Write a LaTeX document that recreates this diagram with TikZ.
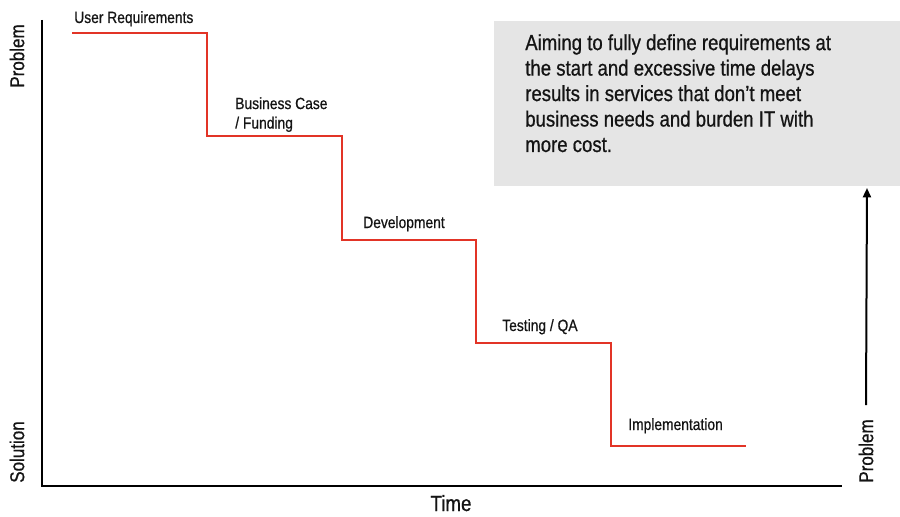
\documentclass[tikz,border=0pt]{standalone}
\usepackage{fontspec}
\setmainfont{Liberation Sans}[FakeStretch=0.85, FakeBold=0.7]
\usetikzlibrary{arrows.meta}
\definecolor{stairred}{RGB}{226,52,38}
\definecolor{notegray}{RGB}{229,229,229}
\definecolor{inkblack}{RGB}{20,20,20}

\begin{document}
\begin{tikzpicture}%
        [x=0.75pt,
        y=-0.75pt,
        axis/.style={color=black, line width=1.9pt},
        stairs/.style={color=stairred, line width=1.8pt},
        phase/.style={anchor=base west, inner sep=0pt, text=inkblack, font=\fontsize{12.2}{14.6}\selectfont},
        axislabel/.style={rotate=90, inner sep=0pt, text=inkblack, font=\fontsize{15}{18}\selectfont},
        notebox/.style={fill=notegray, draw=none},
        notetext/.style={anchor=north west, inner sep=0pt, align=left, text=inkblack, font=\fontsize{16.4}{19.1}\selectfont}]
    %
    \useasboundingbox (0,0) rectangle (900,517);
    %
    %% Coordinates of the axes
    \coordinate (ytop) at (42,20);
    \coordinate (origin) at (42,486);
    \coordinate (xend) at (842,486);
    %% Coordinates of the steps
    \coordinate (s0) at (72,33);
    \coordinate (s1) at (207,136);
    \coordinate (s2) at (342,240);
    \coordinate (s3) at (476,343);
    \coordinate (s4) at (611,446);
    \coordinate (s5) at (746,446);
    %%
    %% Drawing the note
    \fill[notebox] (494,21) rectangle (900,186);
    \node[notetext] (note) at (525,34) {Aiming to fully define requirements at\\the start and excessive time delays\\results in services that don’t meet\\business needs and burden IT with\\more cost.};
    %%
    %% Drawing the axes
    \draw[axis] (ytop) -- (origin) -- (xend);
    \node[axislabel] (problemleft) at (17,56) {Problem};
    \node[axislabel] (solution) at (17,452) {Solution};
    \node[anchor=base, inner sep=0pt, text=inkblack, font=\fontsize{16.5}{19}\selectfont] (time) at (451,511) {Time};
    %%
    %% Drawing the right arrow
    \node[axislabel] (problemright) at (866,451) {Problem};
    \coordinate (arrowtip) at (867,188);
    \draw[color=black, line width=1.5pt, -{Triangle[length=7pt, width=6pt]}] (problemright.east) ++(0,-14) -- (arrowtip);
    %%
    %% Drawing the staircase
    \draw[stairs] (s0) -| (s1) -| (s2) -| (s3) -| (s4) -- (s5);
    %%
    %% Drawing the phases
    \node[phase] (userreq) at (74,23) {User Requirements};
    \node[phase, align=left, anchor=north west] (business) at (235,97) {Business Case\\/ Funding};
    \node[phase] (development) at (363,228) {Development};
    \node[phase] (testing) at (502,331) {Testing / QA};
    \node[phase] (implementation) at (628,430) {Implementation};
    %%
\end{tikzpicture}
\end{document}
